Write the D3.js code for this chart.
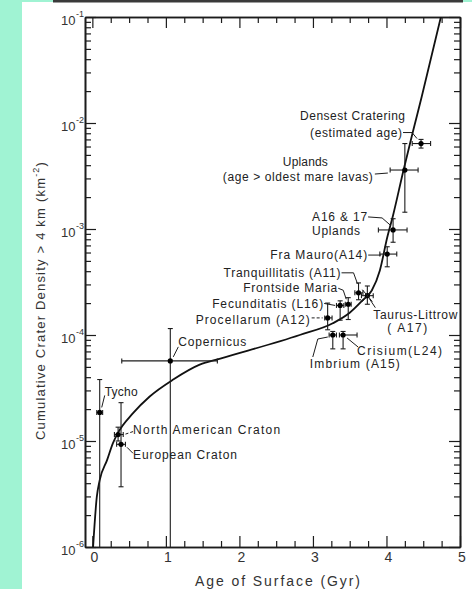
<!DOCTYPE html>
<html><head><meta charset="utf-8">
<script src="https://cdn.jsdelivr.net/npm/d3@7"></script>
<style>html,body{margin:0;padding:0;background:#a0f3d3;} svg{display:block;}</style>
</head><body>
<svg id="chart" width="472" height="589"></svg>
<script>
// ---- data ----
const curveAge = [0.01, 0.06, 0.10, 0.20, 0.28, 0.35, 0.55, 0.78, 1.10, 1.46, 1.74, 2.82, 3.27, 3.50, 3.68, 3.80, 3.91, 4.01, 4.09, 4.23, 4.36, 4.48, 4.74];
const curveDensity = [1.0e-6, 2.95e-6, 4.27e-6, 6.6e-6, 9.55e-6, 1.2e-5, 1.82e-5, 2.63e-5, 3.8e-5, 5.25e-5, 6.0e-5, 1.0e-4, 1.29e-4, 1.62e-4, 2.14e-4, 2.63e-4, 4.07e-4, 8.3e-4, 1.35e-3, 3.55e-3, 8.3e-3, 1.78e-2, 1.0e-1];

const siteNames = ["Tycho", "North American Craton", "European Craton", "Copernicus", "Procellarum (A12)", "Imbrium (A15)", "Fecunditatis (L16)", "Crisium (L24)", "Frontside Maria", "Tranquillitatis (A11)", "Taurus-Littrow (A17)", "Fra Mauro (A14)", "A16 & 17 Uplands", "Uplands", "Densest Cratering"];
const siteAge =      [0.10, 0.35, 0.39, 1.06, 3.20, 3.27, 3.37, 3.41, 3.48, 3.62, 3.74, 4.01, 4.09, 4.25, 4.47];
const siteDensity =  [1.86e-5, 1.15e-5, 9.3e-6, 5.7e-5, 1.45e-4, 1.0e-4, 1.9e-4, 1.0e-4, 1.95e-4, 2.5e-4, 2.35e-4, 5.8e-4, 9.8e-4, 3.6e-3, 6.4e-3];
const ageLow =       [0.06, 0.30, 0.33, 0.40, 3.16, 3.22, 3.32, 3.36, 3.44, 3.57, 3.66, 3.91, 3.89, 4.05, 4.35];
const ageHigh =      [0.14, 0.42, 0.45, 1.70, 3.26, 3.32, 3.42, 3.60, 3.52, 3.68, 3.82, 4.14, 4.28, 4.43, 4.60];
const densityLow =   [1e-6, 1.0e-5, 3.7e-6, 1e-6, 1.12e-4, 7.4e-5, 1.38e-4, 7.4e-5, 1.4e-4, 2.15e-4, 1.95e-4, 4.4e-4, 7.5e-4, 1.44e-3, 5.8e-3];
const densityHigh =  [3.8e-5, 1.35e-5, 2.3e-5, 1.15e-4, 2.0e-4, 1.08e-4, 2.1e-4, 1.08e-4, 2.25e-4, 3.1e-4, 2.9e-4, 6.8e-4, 1.25e-3, 6.4e-3, 7.0e-3];

const xTickValues = [0, 1, 2, 3, 4, 5];
const xTickLabels = ["0", "1", "2", "3", "4", "5"];
const yDecades = [1e-6, 1e-5, 1e-4, 1e-3, 1e-2, 1e-1];
const yExponents = ["-6", "-5", "-4", "-3", "-2", "-1"];
const xTitle = "Age of Surface (Gyr)";
const yTitleMain = "Cumulative Crater Density > 4 km (km";
const yTitleSup = "-2";
const yTitleEnd = ")";

// annotation layout (offsets from each site's plotted point)
const labelLines = [
  [["Tycho", 5, -21, 33]],
  [["North American Craton", 15, -5, 147]],
  [["European Craton", 12, 10, 104]],
  [["Copernicus", 8, -19, 68]],
  [["Procellarum (A12)", -132, 2, 114]],
  [["Imbrium (A15)", -23, 29, 90]],
  [["Fecunditatis (L16)", -128, -2, 111]],
  [["Crisium(L24)", 14, 16, 85]],
  [["Frontside Maria", -105, -17, 94]],
  [["Tranquillitatis (A11)", -135, -20, 117]],
  [["Taurus-Littrow", 6, 19, 84], ["( A17)", 20, 32, 40]],
  [["Fra Mauro(A14)", -117, 1, 97]],
  [["A16 & 17", -81, -13, 55], ["Uplands", -81, 1, 48]],
  [["Uplands", -122, -8, 45], ["(age > oldest mare lavas)", -182, 7, 150]],
  [["Densest Cratering", -121, -28, 105], ["(estimated age)", -111, -11, 92]]
];
const leaders = [
  [[[5,-17],[2,-5]]],
  [[[15,-3],[6,0]]],
  [[[12,9],[6,3]]],
  [[[8,-14],[3,-4]]],
  [[[-16,0],[-5,0]]],
  [[[-20,22],[-15,4],[-5,2]]],
  [[[-16,-2],[-5,0]]],
  [[[15,12],[4,3]]],
  [[[-10,-16],[-5,-14],[-2,-5]]],
  [[[-17,-20],[-5,-20],[-1,-9]]],
  [[[8,12],[2,3]], [[-5,-6],[5,6]], [[5,-6],[-5,6]]],
  [[[-19,1],[-6,1]]],
  [[[-25,-13],[-11,-12],[-3,-5]]],
  [[[-30,4],[-17,3]]],
  [[[-18,-11],[-9,-11],[-4,-5]]]
];

// ---- drawing ----
const svg = d3.select("#chart");
const FONT = "'Liberation Sans', Arial, sans-serif";
const INK = "#1c1c1c";

svg.append("rect").attr("x", 22).attr("y", 2).attr("width", 450).attr("height", 587).attr("fill", "#fff");
svg.append("rect").attr("x", 53).attr("y", 0).attr("width", 410).attr("height", 2.5).attr("fill", "#3a3a3a");

const x = d3.scaleLinear().domain([-0.1, 5]).range([85, 460]);
const y = d3.scaleLog().domain([1e-6, 1e-1]).range([547, 17]);

const xMinor = d3.range(0.25, 5, 0.25).filter(v => Math.abs(v - Math.round(v)) > 1e-6);
const yMinor = y.ticks().filter(v => Math.abs(Math.log10(v) - Math.round(Math.log10(v))) > 1e-6);

function styleAxis(g) {
  g.select(".domain").attr("stroke", INK).attr("stroke-width", 1.6);
  g.selectAll(".tick line").attr("stroke", INK).attr("stroke-width", 1.2);
}
const [x0, x1] = x.range();
const [y0, y1] = y.range();

// bottom
svg.append("g").attr("transform", `translate(0,${y0})`)
  .call(d3.axisBottom(x).tickValues(xMinor).tickSize(-6).tickSizeOuter(0).tickFormat(""))
  .call(styleAxis);
const gb = svg.append("g").attr("transform", `translate(0,${y0})`)
  .call(d3.axisBottom(x).tickValues(xTickValues).tickSize(-11).tickSizeOuter(0).tickPadding(5)
    .tickFormat((d, i) => xTickLabels[i]))
  .call(styleAxis);
gb.selectAll("text").attr("font-family", FONT).attr("font-size", 14).attr("fill", "#333").attr("dx", 1.5);
// top
svg.append("g").attr("transform", `translate(0,${y1})`)
  .call(d3.axisTop(x).tickValues(xMinor).tickSize(-6).tickSizeOuter(0).tickFormat(""))
  .call(styleAxis);
svg.append("g").attr("transform", `translate(0,${y1})`)
  .call(d3.axisTop(x).tickValues(xTickValues).tickSize(-11).tickSizeOuter(0).tickFormat(""))
  .call(styleAxis);
// left
svg.append("g").attr("transform", `translate(${x0},0)`)
  .call(d3.axisLeft(y).tickValues(yMinor).tickSize(-6).tickSizeOuter(0).tickFormat(""))
  .call(styleAxis);
svg.append("g").attr("transform", `translate(${x0},0)`)
  .call(d3.axisLeft(y).tickValues(yDecades).tickSize(-11).tickSizeOuter(0).tickFormat(""))
  .call(styleAxis);
// right
svg.append("g").attr("transform", `translate(${x1},0)`)
  .call(d3.axisRight(y).tickValues(yMinor).tickSize(-6).tickSizeOuter(0).tickFormat(""))
  .call(styleAxis);
svg.append("g").attr("transform", `translate(${x1},0)`)
  .call(d3.axisRight(y).tickValues(yDecades).tickSize(-11).tickSizeOuter(0).tickFormat(""))
  .call(styleAxis);

// y tick labels 10^n
yDecades.forEach((d, i) => {
  const t = svg.append("text").attr("x", 61).attr("y", y(d) + 8)
    .attr("font-family", FONT).attr("font-size", 13).attr("fill", "#333");
  t.append("tspan").text("10");
  t.append("tspan").attr("font-size", 9).attr("dy", -8).attr("dx", 0.5).text(yExponents[i]);
});

// axis titles
svg.append("text").attr("x", 195).attr("y", 586).attr("font-family", FONT).attr("font-size", 14)
  .attr("fill", "#333").attr("textLength", 165).text(xTitle);
const yt = svg.append("text").attr("transform", "translate(45,440) rotate(-90)")
  .attr("font-family", FONT).attr("font-size", 13).attr("fill", "#333").attr("letter-spacing", 1.2);
yt.append("tspan").text(yTitleMain);
yt.append("tspan").attr("font-size", 9).attr("dy", -6).text(yTitleSup);
yt.append("tspan").attr("dy", 6).text(yTitleEnd);

// curve
svg.append("clipPath").attr("id", "plotclip").append("rect")
  .attr("x", x0).attr("y", y1).attr("width", x1 - x0).attr("height", y0 - y1);
const curvePts = curveAge.map((a, i) => [a, curveDensity[i]]);
svg.append("path").datum(curvePts).attr("clip-path", "url(#plotclip)")
  .attr("fill", "none").attr("stroke", "#111").attr("stroke-width", 1.8)
  .attr("d", d3.line().x(d => x(d[0])).y(d => y(d[1])).curve(d3.curveMonotoneX));

// error bars and points
const gp = svg.append("g").attr("stroke", INK).attr("stroke-width", 1.1);
siteAge.forEach((a, i) => {
  const px = x(a), py = y(siteDensity[i]);
  const yl = y(densityLow[i]), yh = y(densityHigh[i]);
  const xl = x(ageLow[i]), xh = x(ageHigh[i]);
  gp.append("line").attr("x1", px).attr("x2", px).attr("y1", yl).attr("y2", yh);
  gp.append("line").attr("x1", xl).attr("x2", xh).attr("y1", py).attr("y2", py);
  const c = 2.5;
  gp.append("line").attr("x1", px - c).attr("x2", px + c).attr("y1", yh).attr("y2", yh);
  if (densityLow[i] > 1e-6) gp.append("line").attr("x1", px - c).attr("x2", px + c).attr("y1", yl).attr("y2", yl);
  gp.append("line").attr("x1", xl).attr("x2", xl).attr("y1", py - c).attr("y2", py + c);
  gp.append("line").attr("x1", xh).attr("x2", xh).attr("y1", py - c).attr("y2", py + c);
  svg.append("circle").attr("cx", px).attr("cy", py).attr("r", 2.6).attr("fill", "#000");

  // leaders
  leaders[i].forEach((pl, k) => {
    svg.append("path").attr("fill", "none").attr("stroke", INK).attr("stroke-width", 1)
      .attr("stroke-dasharray", (i === 1 || i === 4) && k === 0 ? "3,2" : null)
      .attr("d", d3.line()(pl.map(p => [px + p[0], py + p[1]])));
  });
  // labels
  labelLines[i].forEach(l => {
    svg.append("text").attr("x", px + l[1]).attr("y", py + l[2] + 4.3)
      .attr("font-family", FONT).attr("font-size", 12).attr("fill", "#222")
      .attr("textLength", l[3]).attr("lengthAdjust", "spacing").text(l[0]);
  });
});
</script>
</body></html>
